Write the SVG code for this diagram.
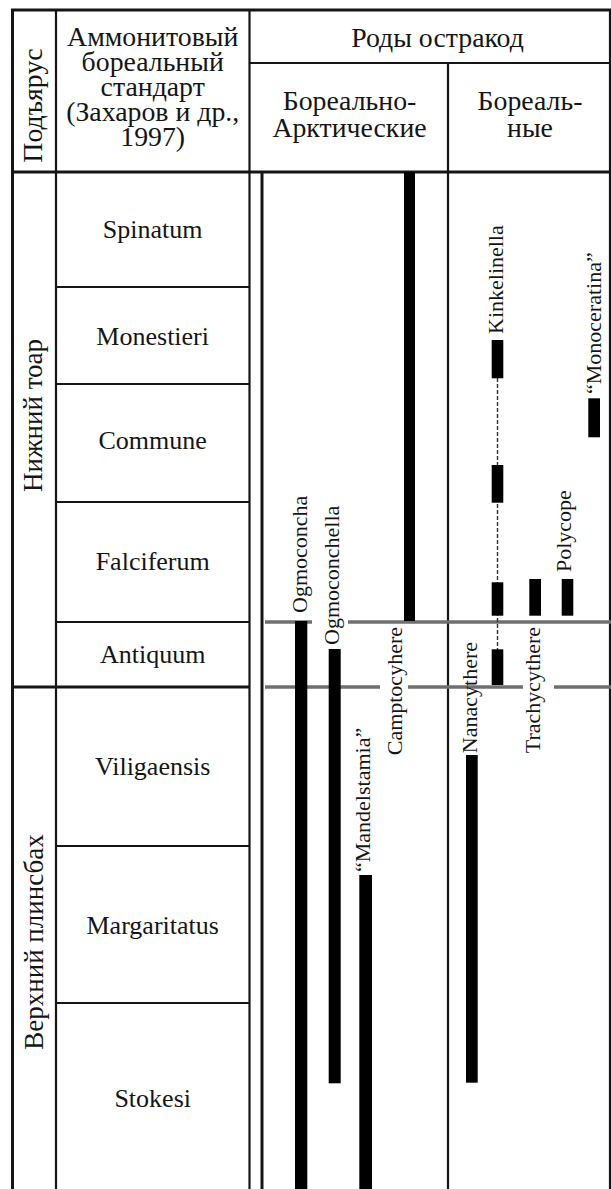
<svg xmlns="http://www.w3.org/2000/svg" width="611" height="1189" viewBox="0 0 611 1189">
<style>
.t{font-family:"Liberation Serif","Times New Roman",serif;font-size:26px;fill:#151515;text-anchor:middle}
.c{font-size:27.8px}
.s{font-size:27px}
.l{font-family:"Liberation Serif","Times New Roman",serif;font-size:22px;fill:#151515}
.ln{stroke:#151515;stroke-width:2.2;fill:none}
.thk{stroke:#151515;stroke-width:3;fill:none}
.gry{stroke:#6f6f6f;stroke-width:3.6;fill:none}
.bar{fill:#000}
.dash{stroke:#333;stroke-width:1.4;stroke-dasharray:4 2;fill:none}
</style>
<rect width="611" height="1189" fill="#fff"/>
<g id="grid">
<line class="thk" x1="11" y1="10" x2="611" y2="10"/>
<line class="thk" x1="12.5" y1="9" x2="12.5" y2="1189"/>
<line class="ln" x1="56" y1="10" x2="56" y2="1189"/>
<line class="ln" x1="249.5" y1="10" x2="249.5" y2="1189"/>
<line class="ln" x1="249.5" y1="63" x2="611" y2="63"/>
<line class="ln" x1="448" y1="63" x2="448" y2="1189"/>
<line class="thk" x1="11" y1="172" x2="611" y2="172"/>
<line class="thk" x1="262" y1="172" x2="262" y2="1189"/>
<line class="ln" x1="610" y1="10" x2="610" y2="1189" stroke="#555"/>
<line class="ln" x1="56" y1="287" x2="249.5" y2="287"/>
<line class="ln" x1="56" y1="384" x2="249.5" y2="384"/>
<line class="ln" x1="56" y1="502" x2="249.5" y2="502"/>
<line class="ln" x1="56" y1="622" x2="249.5" y2="622"/>
<line class="thk" x1="11" y1="687" x2="249.5" y2="687"/>
<line class="ln" x1="56" y1="846" x2="249.5" y2="846"/>
<line class="ln" x1="56" y1="1003" x2="249.5" y2="1003"/>
</g>
<g id="header">
<g id="h-substage"><text class="t c" transform="translate(42,105.5) rotate(-90)">Подъярус</text></g>
<g id="h-ammonite">
<text class="t c" x="152.7" y="45.5">Аммонитовый</text>
<text class="t c" x="152.7" y="71">бореальный</text>
<text class="t c" x="152.7" y="95.5">стандарт</text>
<text class="t c" x="152.7" y="120.5">(Захаров и др.,</text>
<text class="t c" x="152.7" y="146">1997)</text>
</g>
<g id="h-genera"><text class="t c" x="437.5" y="46.5">Роды остракод</text></g>
<g id="h-boreal-arctic">
<text class="t c" x="349.5" y="110">Бореально-</text>
<text class="t c" x="349.5" y="136.5">Арктические</text>
</g>
<g id="h-boreal">
<text class="t c" x="530" y="110">Бореаль-</text>
<text class="t c" x="530" y="136.5">ные</text>
</g>
</g>
<g id="substages">
<g id="s-toarcian"><text class="t s" transform="translate(42,415.5) rotate(-90)">Нижний тоар</text></g>
<g id="s-pliensbachian"><text class="t s" transform="translate(42.5,942) rotate(-90)">Верхний плинсбах</text></g>
</g>
<g id="zones">
<g id="z-spinatum"><text class="t" x="152.7" y="238">Spinatum</text></g>
<g id="z-monestieri"><text class="t" x="152.7" y="345">Monestieri</text></g>
<g id="z-commune"><text class="t" x="152.7" y="449">Commune</text></g>
<g id="z-falciferum"><text class="t" x="152.7" y="570">Falciferum</text></g>
<g id="z-antiquum"><text class="t" x="152.7" y="663">Antiquum</text></g>
<g id="z-viligaensis"><text class="t" x="152.7" y="775">Viligaensis</text></g>
<g id="z-margaritatus"><text class="t" x="152.7" y="934">Margaritatus</text></g>
<g id="z-stokesi"><text class="t" x="152.7" y="1107">Stokesi</text></g>
</g>
<g id="connectors">
<line class="gry" x1="265" y1="622" x2="312" y2="622"/>
<line class="gry" x1="348" y1="622" x2="611" y2="622"/>
<line class="gry" x1="265" y1="687" x2="380" y2="687"/>
<line class="gry" x1="408" y1="687" x2="523" y2="687"/>
<line class="gry" x1="554" y1="687" x2="611" y2="687"/>
</g>
<g id="t-ogmoconcha">
<rect class="bar" x="295" y="621" width="12.3" height="568"/>
<text class="l" transform="translate(306.5,613) rotate(-90)">Ogmoconcha</text>
</g>
<g id="t-ogmoconchella">
<rect class="bar" x="328.7" y="649" width="12" height="434.3"/>
<text class="l" transform="translate(338.5,645) rotate(-90)">Ogmoconchella</text>
</g>
<g id="t-mandelstamia">
<rect class="bar" x="359.3" y="875" width="12.7" height="314"/>
<text class="l" transform="translate(370,872) rotate(-90)">“Mandelstamia”</text>
</g>
<g id="t-camptocyhere">
<rect class="bar" x="404" y="172" width="11" height="449"/>
<text class="l" text-anchor="end" transform="translate(402,627) rotate(-90)">Camptocyhere</text>
</g>
<g id="t-nanacythere">
<rect class="bar" x="466" y="755" width="11.7" height="327.7"/>
<text class="l" text-anchor="end" transform="translate(477,642) rotate(-90)">Nanacythere</text>
</g>
<g id="t-kinkelinella">
<line class="dash" x1="497.5" y1="378" x2="497.5" y2="650"/>
<rect class="bar" x="491.7" y="340" width="11.6" height="38.3"/>
<rect class="bar" x="491.7" y="465" width="11.6" height="37.7"/>
<rect class="bar" x="491.7" y="582.3" width="11.6" height="33.4"/>
<rect class="bar" x="491.7" y="649.3" width="11.6" height="35.7"/>
<text class="l" transform="translate(503,334) rotate(-90)">Kinkelinella</text>
</g>
<g id="t-trachycythere">
<rect class="bar" x="529.3" y="579" width="11.7" height="36.7"/>
<text class="l" text-anchor="end" transform="translate(540,627) rotate(-90)">Trachycythere</text>
</g>
<g id="t-polycope">
<rect class="bar" x="561.7" y="579" width="11.6" height="36.7"/>
<text class="l" transform="translate(571,572) rotate(-90)">Polycope</text>
</g>
<g id="t-monoceratina">
<rect class="bar" x="588.3" y="398.3" width="11.7" height="39"/>
<text class="l" transform="translate(600.5,394) rotate(-90)">“Monoceratina”</text>
</g>
</svg>
